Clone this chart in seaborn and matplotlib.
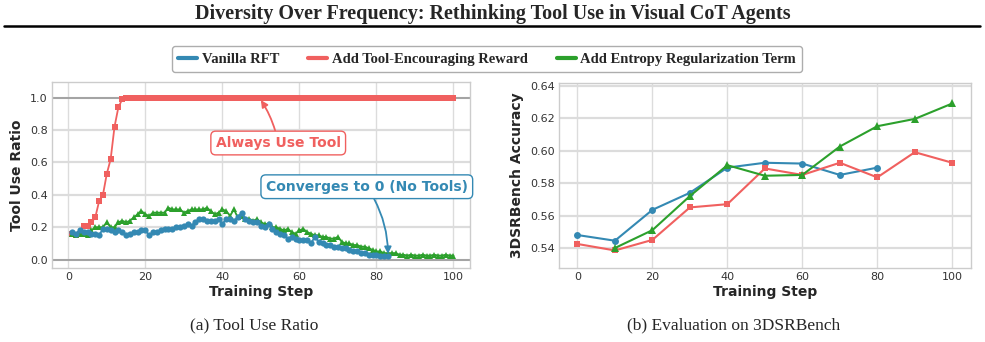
import numpy as np
import pandas as pd
import matplotlib
matplotlib.use("Agg")
import matplotlib.pyplot as plt
from matplotlib.lines import Line2D
import seaborn as sns

sns.set_theme(style="whitegrid")

# colours for the three runs
c_blue = "#3489B3"
c_red = "#F0605F"
c_green = "#2CA02C"

# (a) tool use ratio per training step
steps_red = list(range(1, 101))
ratio_red = [0.16, 0.15, 0.16, 0.21, 0.21, 0.23, 0.26, 0.36, 0.40, 0.53,
             0.62, 0.82, 0.94, 0.99] + [1.0] * 86

steps_green = list(range(1, 101))
ratio_green = [0.16, 0.15, 0.16, 0.16, 0.15, 0.18, 0.20, 0.20, 0.20, 0.23,
               0.20, 0.20, 0.23, 0.24, 0.23, 0.24, 0.26, 0.28, 0.30, 0.28,
               0.27, 0.29, 0.29, 0.29, 0.29, 0.32, 0.31, 0.31, 0.31, 0.29,
               0.30, 0.31, 0.31, 0.31, 0.31, 0.32, 0.30, 0.28, 0.29, 0.31,
               0.30, 0.27, 0.31, 0.26, 0.27, 0.25, 0.25, 0.24, 0.25, 0.23,
               0.22, 0.22, 0.20, 0.20, 0.19, 0.18, 0.19, 0.17, 0.16, 0.18,
               0.19, 0.17, 0.16, 0.15, 0.15, 0.14, 0.14, 0.13, 0.13, 0.14,
               0.11, 0.10, 0.10, 0.09, 0.09, 0.08, 0.08, 0.07, 0.06, 0.05,
               0.05, 0.04, 0.04, 0.04, 0.04, 0.03, 0.03, 0.025, 0.03, 0.025,
               0.025, 0.03, 0.025, 0.025, 0.03, 0.025, 0.025, 0.03, 0.025, 0.025]

steps_blue = list(range(1, 84))
ratio_blue = [0.17, 0.16, 0.18, 0.17, 0.17, 0.16, 0.16, 0.15, 0.19, 0.19,
              0.18, 0.17, 0.18, 0.17, 0.15, 0.16, 0.17, 0.17, 0.18, 0.18,
              0.15, 0.17, 0.17, 0.18, 0.19, 0.19, 0.19, 0.20, 0.20, 0.21,
              0.22, 0.21, 0.23, 0.25, 0.25, 0.24, 0.24, 0.24, 0.25, 0.22,
              0.25, 0.25, 0.24, 0.26, 0.29, 0.25, 0.24, 0.23, 0.23, 0.21,
              0.20, 0.22, 0.19, 0.17, 0.16, 0.15, 0.13, 0.14, 0.13, 0.12,
              0.12, 0.12, 0.10, 0.14, 0.11, 0.10, 0.09, 0.09, 0.08, 0.08,
              0.07, 0.07, 0.06, 0.05, 0.05, 0.04, 0.04, 0.03, 0.03, 0.03,
              0.02, 0.02, 0.02]

# (b) 3DSRBench accuracy
eval_blue_x = [0, 10, 20, 30, 40, 50, 60, 70, 80]
eval_blue = [0.548, 0.5445, 0.5635, 0.574, 0.5895, 0.5925, 0.592, 0.585, 0.5895]
eval_red_x = [0, 10, 20, 30, 40, 50, 60, 70, 80, 90, 100]
eval_red = [0.5425, 0.5385, 0.545, 0.565, 0.567, 0.589, 0.585, 0.5925, 0.5835, 0.599, 0.5925]
eval_green_x = [10, 20, 30, 40, 50, 60, 70, 80, 90, 100]
eval_green = [0.540, 0.551, 0.572, 0.591, 0.5845, 0.585, 0.6025, 0.615, 0.6195, 0.629]

labels = ["Vanilla RFT", "Add Tool-Encouraging Reward", "Add Entropy Regularization Term"]

fig = plt.figure(figsize=(9.85, 3.42), dpi=100)
ax1 = fig.add_axes([0.0525, 0.2173, 0.4247, 0.543])
ax2 = fig.add_axes([0.5672, 0.2164, 0.4186, 0.5418])

for ax in (ax1, ax2):
    ax.grid(axis="y", color="#dcdcdc", lw=1.6)
    ax.grid(axis="x", color="#dcdcdc", lw=1.0)
    for s in ax.spines.values():
        s.set_color("#cccccc")
        s.set_linewidth(1.0)
    ax.tick_params(labelsize=8, colors="#333333", length=0, pad=3)

# ---- left panel
ax1.axhline(0.0, color="#999999", lw=1.2, zorder=1)
ax1.axhline(1.0, color="#999999", lw=1.2, zorder=1)
sns.lineplot(x=steps_red, y=ratio_red, ax=ax1, color=c_red, marker="s",
             markersize=4.5, markeredgewidth=0, lw=1.3, zorder=3)
sns.lineplot(x=steps_green, y=ratio_green, ax=ax1, color=c_green, marker="^",
             markersize=5, markeredgewidth=0, lw=1.3, zorder=3)
sns.lineplot(x=steps_blue, y=ratio_blue, ax=ax1, color=c_blue, marker="o",
             markersize=4.5, markeredgewidth=0, lw=1.3, zorder=4)
ax1.set_xlim(-4.3, 104.3)
ax1.set_ylim(-0.05, 1.097)
ax1.set_xticks([0, 20, 40, 60, 80, 100])
ax1.set_yticks([0.0, 0.2, 0.4, 0.6, 0.8, 1.0])
ax1.set_xlabel("Training Step", fontsize=10, fontweight="bold", labelpad=2)
ax1.set_ylabel("Tool Use Ratio", fontsize=10, fontweight="bold", labelpad=4)

ax1.annotate("Always Use Tool", xy=(50, 0.985), xytext=(54.5, 0.72),
             fontsize=10, fontweight="bold", color=c_red, ha="center", va="center",
             bbox=dict(boxstyle="round,pad=0.35", fc="white", ec=c_red, lw=1),
             arrowprops=dict(arrowstyle="-|>", color=c_red, lw=1.3,
                             connectionstyle="arc3,rad=0.1", shrinkA=0, shrinkB=0),
             zorder=6)
ax1.annotate("Converges to 0 (No Tools)", xy=(83, 0.035), xytext=(77.5, 0.45),
             fontsize=10, fontweight="bold", color=c_blue, ha="center", va="center",
             bbox=dict(boxstyle="round,pad=0.35", fc="white", ec=c_blue, lw=1),
             arrowprops=dict(arrowstyle="-|>", color=c_blue, lw=1.3,
                             connectionstyle="arc3,rad=-0.15", shrinkA=0, shrinkB=0),
             zorder=6)

# ---- right panel
sns.lineplot(x=eval_blue_x, y=eval_blue, ax=ax2, color=c_blue, marker="o",
             markersize=5, markeredgewidth=0, lw=1.5)
sns.lineplot(x=eval_red_x, y=eval_red, ax=ax2, color=c_red, marker="s",
             markersize=5, markeredgewidth=0, lw=1.5)
sns.lineplot(x=eval_green_x, y=eval_green, ax=ax2, color=c_green, marker="^",
             markersize=5.5, markeredgewidth=0, lw=1.5)
ax2.set_xlim(-5, 105)
ax2.set_ylim(0.5277, 0.6418)
ax2.set_xticks([0, 20, 40, 60, 80, 100])
ax2.set_yticks([0.54, 0.56, 0.58, 0.60, 0.62, 0.64])
ax2.set_xlabel("Training Step", fontsize=10, fontweight="bold", labelpad=2)
ax2.set_ylabel("3DSRBench Accuracy", fontsize=10, fontweight="bold", labelpad=4)

# ---- figure furniture
serif = ["Liberation Serif", "DejaVu Serif"]
fig.text(0.5, 0.958, "Diversity Over Frequency: Rethinking Tool Use in Visual CoT Agents",
         ha="center", va="center", fontsize=14.5, fontweight="bold", family=serif)
fig.add_artist(Line2D([0.004, 0.995], [0.924, 0.924], color="black", lw=1.8))

handles = [Line2D([], [], color=c, lw=3) for c in (c_blue, c_red, c_green)]
leg = fig.legend(handles, labels, loc="center", bbox_to_anchor=(0.4945, 0.827),
                 ncol=3, frameon=True, fancybox=True, handlelength=1.3,
                 handletextpad=0.3, columnspacing=2.0, borderpad=0.45,
                 prop=dict(family=serif, weight="bold", size=10.5))
leg.get_frame().set_edgecolor("#999999")
leg.get_frame().set_linewidth(1.0)

fig.text(0.258, 0.05, "(a) Tool Use Ratio", ha="center", va="center",
         fontsize=12.5, family=serif)
fig.text(0.745, 0.05, "(b) Evaluation on 3DSRBench", ha="center", va="center",
         fontsize=12.5, family=serif)

fig.savefig("out.png", dpi=100)
